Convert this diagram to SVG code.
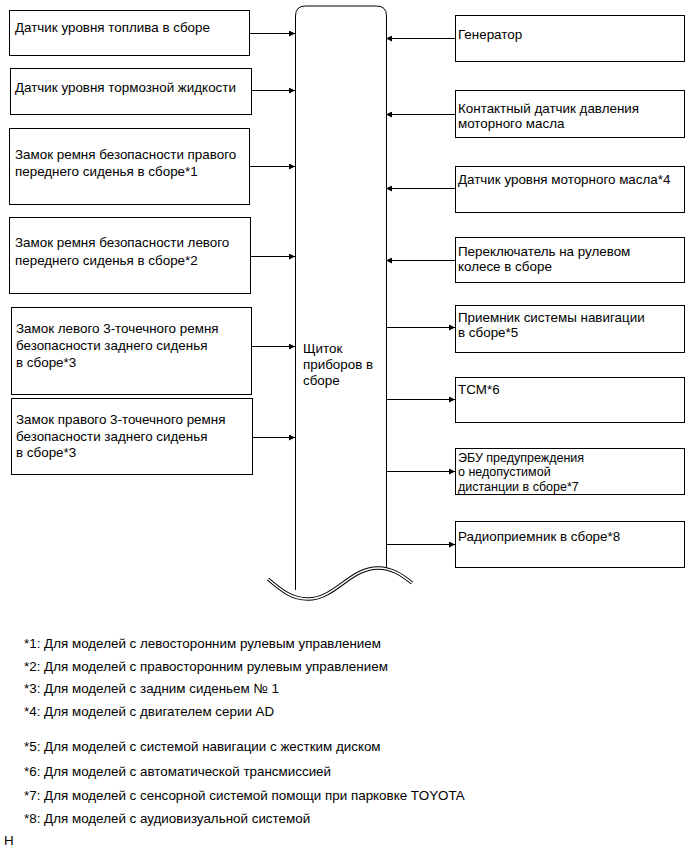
<svg xmlns="http://www.w3.org/2000/svg" width="691" height="855" viewBox="0 0 691 855">
<defs>
<style>
text{font-family:"Liberation Sans",Arial,sans-serif;font-size:13.4px;fill:#000}
.tight{font-size:12.5px}
.box{fill:#fff;stroke:#000;stroke-width:1}
.ln{stroke:#000;stroke-width:1;fill:none}
</style>
<marker id="ah" viewBox="0 0 10 10" refX="10" refY="5" markerWidth="9" markerHeight="6" markerUnits="userSpaceOnUse" orient="auto">
<path d="M0,0 L10,5 L0,10 Z" fill="#000"/>
</marker>
</defs>
<rect width="691" height="855" fill="#fff"/>

<g id="meter">
<path class="ln" d="M295.5,590 L295.5,16 Q295.5,6 305.5,6 L376.5,6 Q386.5,6 386.5,16 L386.5,568"/>
<path d="M268,579 C282,591 292,599 308,599 C335,599 350,568 378,568 C392,568 402,575 412,583" fill="none" stroke="#000" stroke-width="3.5"/>
<path d="M268,579 C282,591 292,599 308,599 C335,599 350,568 378,568 C392,568 402,575 412,583" fill="none" stroke="#fff" stroke-width="1.5"/>
<text x="303" y="353">Щиток</text>
<text x="303" y="369">приборов в</text>
<text x="303" y="385">сборе</text>
</g>

<g id="conn">
<line class="ln" x1="249" y1="33.5" x2="295" y2="33.5" marker-end="url(#ah)"/>
<line class="ln" x1="251" y1="90.5" x2="295" y2="90.5" marker-end="url(#ah)"/>
<line class="ln" x1="249" y1="166.5" x2="295" y2="166.5" marker-end="url(#ah)"/>
<line class="ln" x1="250" y1="256.5" x2="295" y2="256.5" marker-end="url(#ah)"/>
<line class="ln" x1="251" y1="346.5" x2="295" y2="346.5" marker-end="url(#ah)"/>
<line class="ln" x1="252" y1="437.5" x2="295" y2="437.5" marker-end="url(#ah)"/>
<line class="ln" x1="455" y1="38.5" x2="386" y2="38.5" marker-end="url(#ah)"/>
<line class="ln" x1="455" y1="114.5" x2="386" y2="114.5" marker-end="url(#ah)"/>
<line class="ln" x1="455" y1="188.5" x2="386" y2="188.5" marker-end="url(#ah)"/>
<line class="ln" x1="455" y1="260.5" x2="386" y2="260.5" marker-end="url(#ah)"/>
<line class="ln" x1="386" y1="327.5" x2="455" y2="327.5" marker-end="url(#ah)"/>
<line class="ln" x1="386" y1="399.5" x2="455" y2="399.5" marker-end="url(#ah)"/>
<line class="ln" x1="386" y1="471.5" x2="455" y2="471.5" marker-end="url(#ah)"/>
<line class="ln" x1="386" y1="544.5" x2="455" y2="544.5" marker-end="url(#ah)"/>
</g>

<g id="l1"><rect class="box" x="9.5" y="10.5" width="240" height="45"/><text x="15" y="32">Датчик уровня топлива в сборе</text></g>
<g id="l2"><rect class="box" x="10.5" y="68.5" width="241" height="46"/><text x="15" y="92">Датчик уровня тормозной жидкости</text></g>
<g id="l3"><rect class="box" x="9.5" y="128.5" width="240" height="76"/><text x="15" y="159">Замок ремня безопасности правого</text><text x="15" y="176">переднего сиденья в сборе*1</text></g>
<g id="l4"><rect class="box" x="9.5" y="217.5" width="241" height="76"/><text x="15" y="247">Замок ремня безопасности левого</text><text x="15" y="265">переднего сиденья в сборе*2</text></g>
<g id="l5"><rect class="box" x="11.5" y="307.5" width="240" height="87"/><text x="16" y="333">Замок левого 3-точечного ремня</text><text x="16" y="350">безопасности заднего сиденья</text><text x="16" y="367">в сборе*3</text></g>
<g id="l6"><rect class="box" x="11.5" y="398.5" width="241" height="76"/><text x="16" y="424">Замок правого 3-точечного ремня</text><text x="16" y="441">безопасности заднего сиденья</text><text x="16" y="457">в сборе*3</text></g>

<g id="r1"><rect class="box" x="455.5" y="15.5" width="229" height="46"/><text x="458" y="39">Генератор</text></g>
<g id="r2"><rect class="box" x="455.5" y="90.5" width="229" height="47"/><text x="458" y="113">Контактный датчик давления</text><text x="458" y="128">моторного масла</text></g>
<g id="r3"><rect class="box" x="455.5" y="166.5" width="229" height="46"/><text x="458" y="184">Датчик уровня моторного масла*4</text></g>
<g id="r4"><rect class="box" x="455.5" y="237.5" width="229" height="45"/><text x="458" y="256">Переключатель на рулевом</text><text x="458" y="271">колесе в сборе</text></g>
<g id="r5"><rect class="box" x="455.5" y="305.5" width="229" height="47"/><text x="458" y="322">Приемник системы навигации</text><text x="458" y="337">в сборе*5</text></g>
<g id="r6"><rect class="box" x="455.5" y="377.5" width="229" height="45"/><text x="458" y="394">TCM*6</text></g>
<g id="r7"><rect class="box" x="455.5" y="448.5" width="229" height="46"/><text class="tight" x="458" y="461.5">ЭБУ предупреждения</text><text class="tight" x="458" y="476">о недопустимой</text><text class="tight" x="458" y="490.5">дистанции в сборе*7</text></g>
<g id="r8"><rect class="box" x="455.5" y="521.5" width="229" height="46"/><text x="458" y="541">Радиоприемник в сборе*8</text></g>

<g id="notes">
<text x="24" y="648">*1: Для моделей с левосторонним рулевым управлением</text>
<text x="24" y="671">*2: Для моделей с правосторонним рулевым управлением</text>
<text x="24" y="693">*3: Для моделей с задним сиденьем № 1</text>
<text x="24" y="716">*4: Для моделей с двигателем серии AD</text>
<text x="24" y="751">*5: Для моделей с системой навигации с жестким диском</text>
<text x="24" y="776">*6: Для моделей с автоматической трансмиссией</text>
<text x="24" y="800">*7: Для моделей с сенсорной системой помощи при парковке TOYOTA</text>
<text x="24" y="823">*8: Для моделей с аудиовизуальной системой</text>
<text x="4" y="845">H</text>
</g>
</svg>
